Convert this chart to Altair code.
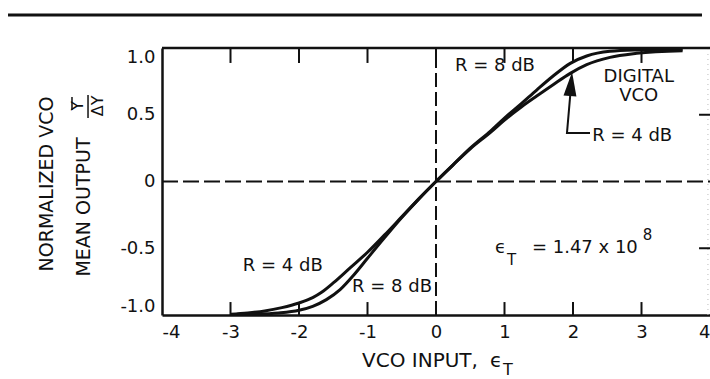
import altair as alt
import pandas as pd

FONT = "DejaVu Sans"
INK = "#111111"

# ---- curve values ----
r4_x = [-3.0, -2.75, -2.5, -2.25, -2.0, -1.8, -1.67, -1.5, -1.25, -1.0, -0.75, -0.5, -0.25, 0.0,
        0.25, 0.5, 0.8, 1.0, 1.25, 1.47, 1.71, 1.96, 2.2, 2.54, 2.93, 3.6]
r4_y = [-0.995, -0.985, -0.97, -0.945, -0.91, -0.87, -0.83, -0.76, -0.645, -0.53, -0.40, -0.265, -0.13, 0.0,
        0.125, 0.245, 0.37, 0.46, 0.56, 0.64, 0.725, 0.81, 0.875, 0.93, 0.96, 0.98]
r8_x = [-2.9, -2.6, -2.3, -2.0, -1.8, -1.6, -1.4, -1.2, -1.0, -0.75, -0.5, -0.25, 0.0,
        0.25, 0.5, 0.8, 1.0, 1.25, 1.47, 1.71, 1.96, 2.2, 2.54, 2.93, 3.6]
r8_y = [-0.995, -0.993, -0.985, -0.965, -0.935, -0.885, -0.81, -0.70, -0.575, -0.42, -0.27, -0.13, 0.0,
        0.125, 0.25, 0.38, 0.475, 0.585, 0.685, 0.79, 0.885, 0.94, 0.975, 0.985, 0.99]

x_tick_values = [-4, -3, -2, -1, 0, 1, 2, 3, 4]
y_tick_values = [-1.0, -0.5, 0.0, 0.5, 1.0]
inner_ticks_x = [-3, -2, -1, 0, 1, 2, 3]
right_ticks_y = [-0.5, 0.5]

# annotation texts
left_texts = ["R = 8 dB", "R = 4 dB", "R = 4 dB", "R = 8 dB", "ϵ", "T", "= 1.47 x 10", "8",
              "VCO INPUT,", "ϵ", "T"]
left_x = [0.277, 2.28, -2.82, -1.226, 0.861, 1.036, 1.40, 3.02, -1.08, 0.788, 0.978]
left_y = [0.824, 0.30, -0.674, -0.824, -0.536, -0.625, -0.536, -0.438, -1.39, -1.39, -1.45]
left_size = [18, 18, 18, 18, 18, 15, 18, 15, 20, 20, 16]

center_texts = ["DIGITAL", "VCO"]
center_x = [2.96, 2.96]
center_y = [0.742, 0.60]

rot_texts = ["NORMALIZED VCO", "MEAN OUTPUT", "Y", "ΔY"]
rot_x = [-5.591, -5.051, -5.153, -4.861]
rot_y = [-0.019, -0.191, 0.566, 0.566]
rot_size = [19, 19, 16, 16]

# ---- tables ----
curves = pd.concat([
    pd.DataFrame({"x": r4_x, "y": r4_y, "series": "R = 4 dB"}),
    pd.DataFrame({"x": r8_x, "y": r8_y, "series": "R = 8 dB"}),
])

xs = alt.Scale(domain=[-4, 4], nice=False, zero=False)
ys = alt.Scale(domain=[-1, 1], nice=False, zero=False)

x_axis = alt.Axis(values=x_tick_values, title=None, ticks=False, tickSize=0, grid=False,
                  labelPadding=8, labelFontSize=18, labelFont=FONT, labelColor=INK,
                  domainColor=INK, domainWidth=2.5, labelFlush=True, labelOverlap=False,
                  labelExpr="(datum.value < 0 ? '-' : '') + abs(datum.value)")
y_axis = alt.Axis(values=y_tick_values, title=None, ticks=False, tickSize=0, grid=False,
                  labelPadding=7, labelFontSize=18, labelFont=FONT, labelColor=INK,
                  domainColor=INK, domainWidth=2.5, labelFlush=True, labelOverlap=False,
                  labelExpr="datum.value == 0 ? '0' : (datum.value < 0 ? '-' : '') + format(abs(datum.value), '.1f')")


def X(f="x"):
    return alt.X(f"{f}:Q", scale=xs, axis=x_axis, title=None)


def Y(f="y"):
    return alt.Y(f"{f}:Q", scale=ys, axis=y_axis, title=None)


# curves
curve_layer = alt.Chart(curves).mark_line(color=INK, strokeWidth=3, interpolate="monotone").encode(
    x=X(), y=Y(), detail="series:N"
)

# dashed zero lines
zero_h = alt.Chart(pd.DataFrame({"x": [-4], "x2": [4], "y": [0]})).mark_rule(
    color=INK, strokeWidth=2, strokeDash=[16, 5]).encode(x=X(), x2="x2:Q", y=Y())
zero_v = alt.Chart(pd.DataFrame({"x": [0], "y": [-1], "y2": [1]})).mark_rule(
    color=INK, strokeWidth=2, strokeDash=[14, 5]).encode(x=X(), y=Y(), y2="y2:Q")

# top frame line and faint right edge
top_frame = alt.Chart(pd.DataFrame({"x": [-4], "x2": [4], "y": [1]})).mark_rule(
    color=INK, strokeWidth=2.5).encode(x=X(), x2="x2:Q", y=Y())
right_frame = alt.Chart(pd.DataFrame({"x": [3.97], "y": [-1], "y2": [1]})).mark_rule(
    color="#bbbbbb", strokeWidth=1, strokeDash=[1, 4]).encode(x=X(), y=Y(), y2="y2:Q")

# page rule at the top of the scan
page_rule = alt.Chart(pd.DataFrame({"x": [-6.248], "x2": [3.883], "y": [1.247]})).mark_rule(
    color=INK, strokeWidth=3).encode(x=X(), x2="x2:Q", y=Y())

# inward ticks
bottom_ticks = alt.Chart(pd.DataFrame({"x": inner_ticks_x, "y": -1.0, "y2": -0.903})).mark_rule(
    color=INK, strokeWidth=2).encode(x=X(), y=Y(), y2="y2:Q")
top_ticks = alt.Chart(pd.DataFrame({"x": inner_ticks_x, "y": 1.0, "y2": 0.888})).mark_rule(
    color=INK, strokeWidth=2).encode(x=X(), y=Y(), y2="y2:Q")
right_ticks = alt.Chart(pd.DataFrame({"y": right_ticks_y, "x": 4.0, "x2": 3.84})).mark_rule(
    color=INK, strokeWidth=2).encode(x=X(), x2="x2:Q", y=Y())

# arrow: leader + shaft + head
arrow_path = pd.DataFrame({"x": [2.248, 1.912, 1.962], "y": [0.363, 0.363, 0.66], "o": [0, 1, 2]})
arrow_line = alt.Chart(arrow_path).mark_line(color=INK, strokeWidth=2).encode(
    x=X(), y=Y(), order="o:Q")
arrow_head = alt.Chart(pd.DataFrame({"x": [1.971], "y": [0.73]})).mark_point(
    shape="M0,-1L0.54,1L-0.54,1Z", size=576, filled=True, color=INK, opacity=1, angle=5
).encode(x=X(), y=Y())

# fraction decorations for the y title
frac_rules = alt.Chart(pd.DataFrame({"x": [-5.314, -5.080], "y": [0.633, 0.648], "y2": [0.536, 0.476]})).mark_rule(
    color=INK, strokeWidth=1.5).encode(x=X(), y=Y(), y2="y2:Q")

# texts
left_df = pd.DataFrame({"x": left_x, "y": left_y, "t": left_texts, "s": left_size})
left_layer = alt.Chart(left_df).mark_text(font=FONT, color=INK, align="left", baseline="alphabetic").encode(
    x=X(), y=Y(), text="t:N", size=alt.Size("s:Q", scale=None, legend=None))

center_df = pd.DataFrame({"x": center_x, "y": center_y, "t": center_texts})
center_layer = alt.Chart(center_df).mark_text(font=FONT, color=INK, align="center", baseline="alphabetic",
                                              fontSize=18).encode(x=X(), y=Y(), text="t:N")

rot_df = pd.DataFrame({"x": rot_x, "y": rot_y, "t": rot_texts, "s": rot_size})
rot_layer = alt.Chart(rot_df).mark_text(font=FONT, color=INK, align="center", baseline="alphabetic",
                                        angle=270).encode(
    x=X(), y=Y(), text="t:N", size=alt.Size("s:Q", scale=None, legend=None))

chart = alt.layer(
    curve_layer, zero_h, zero_v, top_frame, right_frame, page_rule,
    bottom_ticks, top_ticks, right_ticks, arrow_line, arrow_head, frac_rules,
    left_layer, center_layer, rot_layer
).properties(
    width=548, height=267,
    padding={"left": 162, "top": 48, "right": 0, "bottom": 64},
    autosize=alt.AutoSizeParams(type="none"),
    background="white",
).configure_view(stroke=None)

chart.save("out.html", embed_options={"renderer": "svg", "actions": False})
